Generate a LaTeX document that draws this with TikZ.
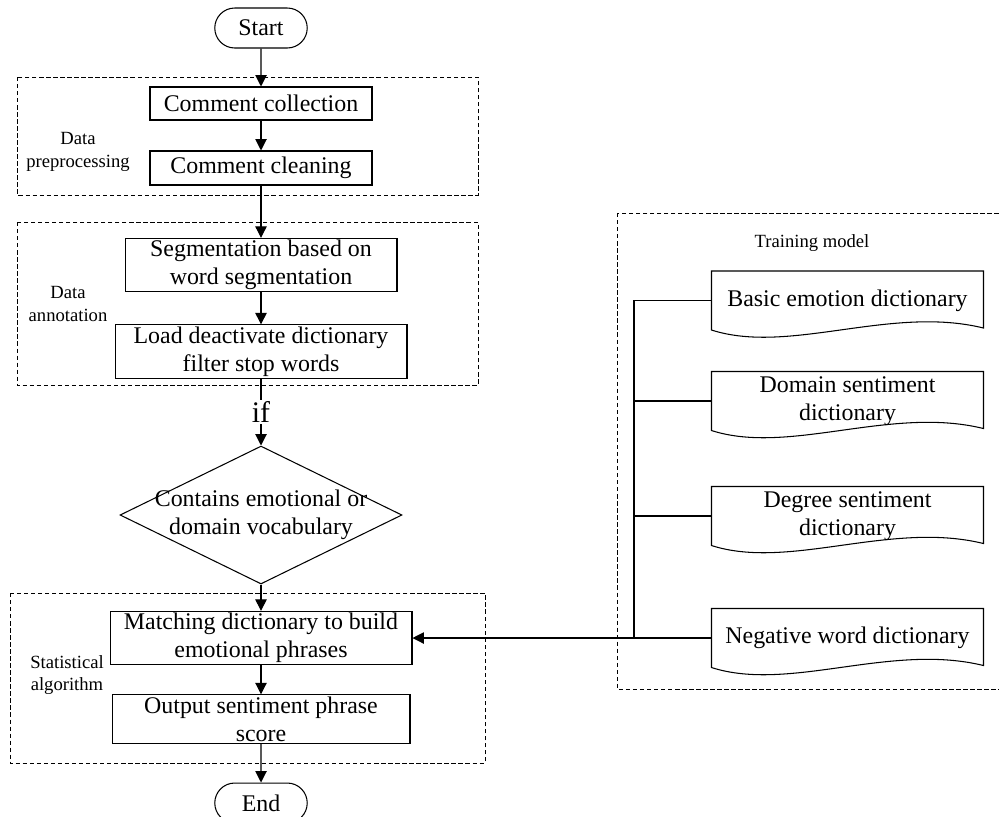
\documentclass[tikz,border=0pt]{standalone}
\usepackage{fontspec}
\setmainfont{Liberation Serif}
\usetikzlibrary{shapes.geometric, shapes.misc, arrows.meta, positioning, calc}

\tikzset{
    base/.style={font=\fontsize{13.6}{16}\selectfont, align=center, inner sep=1pt},
    term/.style={base, draw, rounded rectangle, minimum width=1.92cm, minimum height=0.8cm},
    proc/.style={base, draw, rectangle},
    decision/.style={draw, diamond, inner sep=0pt, minimum width=5.64cm, minimum height=2.76cm},
    docu/.style={base, minimum width=5.42cm, minimum height=1.16cm},
    group/.style={draw, thin, dash pattern=on 2.5pt off 1.5pt},
    grouplbl/.style={font=\fontsize{10.6}{13}\selectfont, align=center},
    iflbl/.style={fill=white, inner sep=1pt, font=\fontsize{17}{17}\selectfont}
}

\begin{document}
\begin{tikzpicture}[x=0.02cm, y=-0.02cm, >={Triangle[length=6.5pt, width=6.5pt]}, semithick]
    \clip (0,0) rectangle (999,816);

    % groups
    \draw[group] (17,77) rectangle (478,195);
    \draw[group] (17,222) rectangle (478,385);
    \draw[group] (10,593) rectangle (485,763);
    \draw[group] (617,213) rectangle (1010,689);

    \node[grouplbl] (prelbl) at (78,152) {Data\\preprocessing};
    \node[grouplbl] (annlbl) at (68,304) {Data\\annotation};
    \node[grouplbl] (statlbl) at (67,675) {Statistical\\algorithm};
    \node[grouplbl] (trainlbl) at (812,243) {Training model};

    % main flow
    \node[term] (start) at (261,28) {Start};
    \node[proc, minimum width=4.44cm, minimum height=0.66cm] (collect) at (261,103.5) {Comment collection};
    \node[proc, minimum width=4.44cm, minimum height=0.68cm] (clean) at (261,168) {Comment cleaning};
    \node[proc, minimum width=5.44cm, minimum height=1.0cm] (segment) at (261,265) {Segmentation based on\\word segmentation};
    \node[proc, minimum width=5.84cm, minimum height=0.94cm] (load) at (261,351.5) {Load deactivate dictionary\\filter stop words};
    \node[decision] (cond) at (261,515) {};
    \node[base] (condtxt) at (cond) {Contains emotional or\\domain vocabulary};
    \node[proc, minimum width=6.04cm, minimum height=1.02cm] (match) at (261,638) {Matching dictionary to build\\emotional phrases};
    \node[proc, minimum width=5.96cm, minimum height=0.96cm] (output) at (261,719) {Output sentiment phrase\\score};
    \node[term] (finish) at (261,803) {End};

    % dictionaries
    \node[docu] (basic) at (847.5,300.5) {Basic emotion dictionary};
    \node[docu] (domain) at (847.5,401) {Domain sentiment\\dictionary};
    \node[docu] (degree) at (847.5,516) {Degree sentiment\\dictionary};
    \node[docu] (negword) at (847.5,638) {Negative word dictionary};
    \foreach \d in {basic, domain, degree, negword} {
        \draw (\d.north west) -- (\d.north east) -- ($(\d.south east)+(0,-2)$)
            .. controls +(-93,-23) and +(78,25) .. (\d.south west) -- cycle;
    }

    \coordinate (trunk) at (634,0);
    \draw (basic.west) -- (basic.west -| trunk) -- (negword.west -| trunk);
    \foreach \d in {domain, degree}
        \draw (\d.west) -- (\d.west -| trunk);

    \path[->]
    (start) edge (collect)
    (collect) edge (clean)
    (clean) edge (segment)
    (segment) edge (load)
    (load) edge node[iflbl] {if} (cond)
    (cond) edge (match)
    (match) edge (output)
    (output) edge (finish)
    (negword) edge (match);
\end{tikzpicture}
\end{document}
